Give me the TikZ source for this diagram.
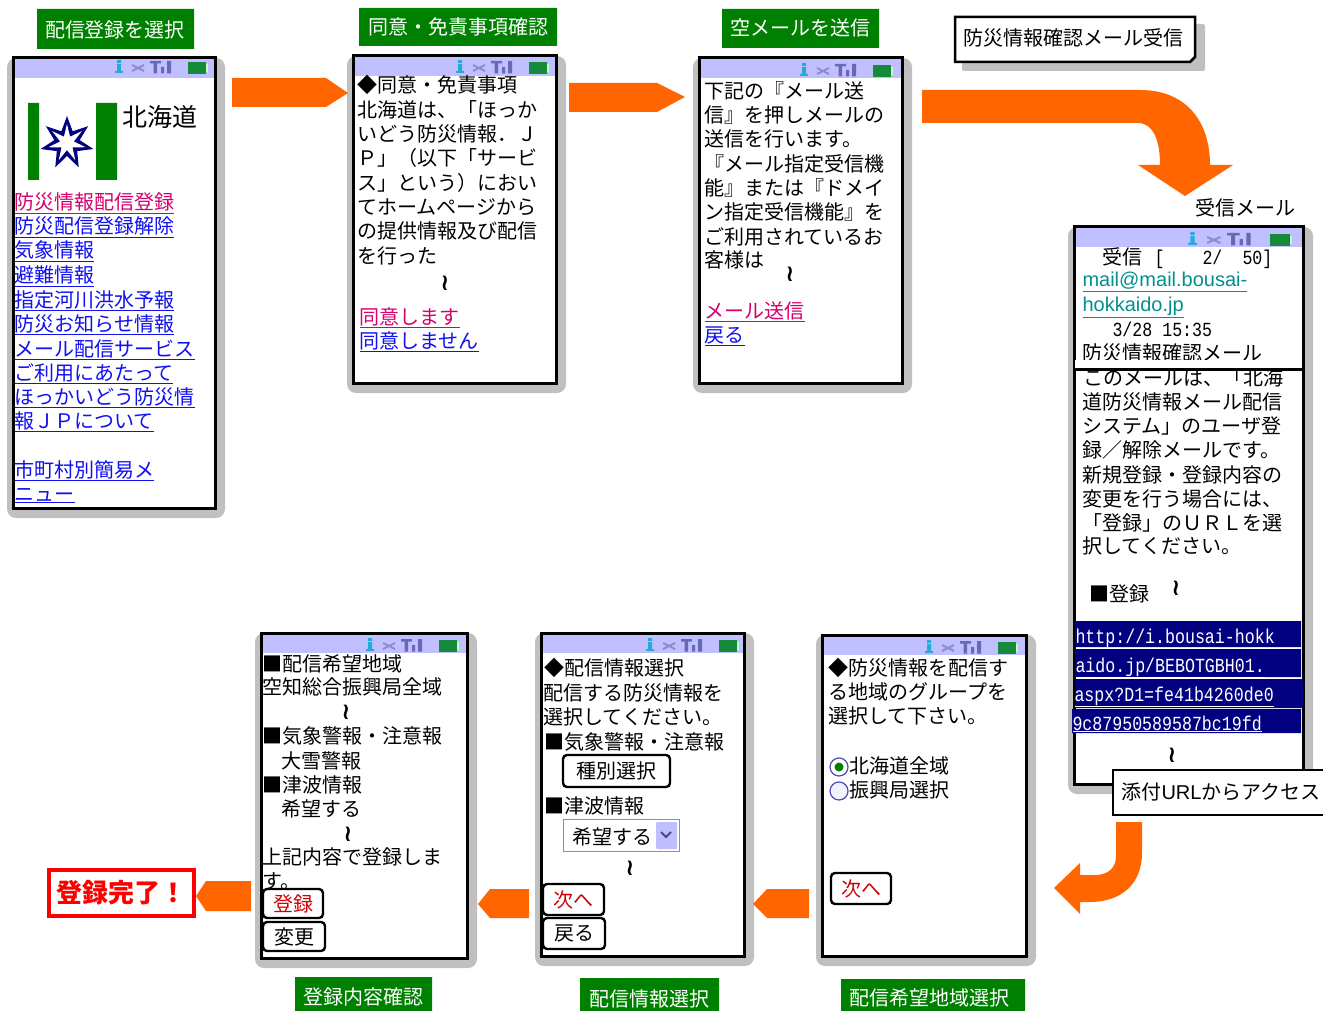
\documentclass[tikz,border=0pt]{standalone}
\usepackage{fontspec}
\setmainfont{Noto Sans CJK JP}
\newfontfamily\latinf{Liberation Sans}
\newfontfamily\monof[FakeStretch=0.83]{Liberation Mono}
\newfontfamily\wavef{DejaVu Sans}
\definecolor{orangeA}{HTML}{FF6600}
\definecolor{shadowg}{HTML}{C0C0C0}
\definecolor{headl}{HTML}{C0C0FF}
\definecolor{greenL}{HTML}{008000}
\definecolor{linkr}{HTML}{D6006E}
\definecolor{linkb}{HTML}{1010F0}
\definecolor{linkt}{HTML}{009090}
\definecolor{btnr}{HTML}{D00000}
\definecolor{navyU}{HTML}{000080}
\definecolor{iconc}{HTML}{2AA8D8}
\definecolor{iconb}{HTML}{6868B8}
\definecolor{icong}{HTML}{158A3A}
\newcounter{tn}
\tikzset{
  tx/.style={anchor=base west,inner sep=0pt,outer sep=0pt,font=\fontsize{20pt}{24pt}\selectfont,text=black},
  wv/.style={anchor=center,inner sep=0pt,font=\wavef\bfseries\fontsize{23pt}{26pt}\selectfont},
  gtext/.style={anchor=center,text=white,inner sep=0pt,font=\fontsize{20pt}{24pt}\selectfont},
  btn/.style={draw=black,line width=2.4pt,rounded corners=4pt,fill=white,inner sep=0pt,font=\fontsize{20pt}{24pt}\selectfont},
  arrowA/.style={fill=orangeA,draw=none},
}
\newcommand\Tx[3]{\stepcounter{tn}\node[tx] (t\arabic{tn}) at (#1-0.5,#2+8) {#3};}
\newcommand\Wv[2]{\stepcounter{tn}\node[wv] (t\arabic{tn}) at (#1,#2) {≀};}
\newcommand\Ulk[2]{\textcolor{#1}{\underline{#2}}}
\newcommand\Mono[1]{{\monof\fontsize{20pt}{24pt}\selectfont #1}}
\newcommand\Url[1]{\textcolor{white}{\monof\fontsize{20pt}{24pt}\selectfont\underline{#1}}}
\newcommand\Status[3]{%
  \begin{scope}[shift={(#1,#2)},xscale=#3]
    \fill[iconc] (2,0) rectangle (6,3) (2,4) rectangle (6,11) (0,11) rectangle (8,13);
    \draw[line width=2pt,color=black!45!blue!45] (17,5) -- (29,11) (17,11) -- (29,5);
    \fill[iconb] (35,1) rectangle (46,3.5) (38.5,1) rectangle (42,13.5) (46,7) rectangle (49,13.5) (52,1) rectangle (56,13.5);
    \fill[icong] (73,2) rectangle (91,14);
    \fill[green!25] (91,4) rectangle (93,12);
  \end{scope}}
\newcommand\Phone[4]{%
  \fill[shadowg,rounded corners=9pt] (#1-5,#2) rectangle (#3+10,#4+10);
  \draw[fill=white,line width=3pt] (#1+1,#2) rectangle (#3,#4);
  \fill[headl] (#1+2.5,#2+1.5) rectangle (#3-1.5,#2+20);}
\newcommand\StarPoly[3]{% colour, outer radius, inner radius
  \fill[#1] (67,{143-#2})
    -- ({67+#3*sin(25.71)},{143-#3*cos(25.71)}) -- ({67+#2*sin(51.43)},{143-#2*cos(51.43)})
    -- ({67+#3*sin(77.14)},{143-#3*cos(77.14)}) -- ({67+#2*sin(102.86)},{143-#2*cos(102.86)})
    -- ({67+#3*sin(128.57)},{143-#3*cos(128.57)}) -- ({67+#2*sin(154.29)},{143-#2*cos(154.29)})
    -- ({67+#3*sin(180)},{143-#3*cos(180)}) -- ({67+#2*sin(205.71)},{143-#2*cos(205.71)})
    -- ({67+#3*sin(231.43)},{143-#3*cos(231.43)}) -- ({67+#2*sin(257.14)},{143-#2*cos(257.14)})
    -- ({67+#3*sin(282.86)},{143-#3*cos(282.86)}) -- ({67+#2*sin(308.57)},{143-#2*cos(308.57)})
    -- ({67+#3*sin(334.29)},{143-#3*cos(334.29)}) -- cycle;}
\begin{document}
\begin{tikzpicture}[x=1pt,y=-1pt]
\useasboundingbox (0,0) rectangle (1323,1011);
\fill[white] (0,0) rectangle (1323,1011);

% ---- green labels
\fill[greenL] (37,9) rectangle (194,49) (359,8) rectangle (557,46) (722,9) rectangle (879,48)
  (295,977) rectangle (432,1011) (580,978) rectangle (719,1011) (841,979) rectangle (1025,1011);
\node[gtext] (l1) at (115,30) {配信登録を選択};
\node[gtext] (l2) at (458,27) {同意・免責事項確認};
\node[gtext] (l3) at (800.5,28) {空メールを送信};
\node[gtext] (l7) at (363.5,997) {登録内容確認};
\node[gtext] (l6) at (649,999) {配信情報選択};
\node[gtext] (l5) at (929,998) {配信希望地域選択};

% ---- phone 1
\Phone{12}{58}{215}{508}
\Status{115}{60}{1}
\fill[greenL] (28,103) rectangle (39,180) (96,103) rectangle (117,180);
\StarPoly{navyU}{27}{13}
\StarPoly{white}{19}{7}
\stepcounter{tn}\node[tx,font=\fontsize{25pt}{28pt}\selectfont] (hk) at (122,127) {北海道};
\Tx{15}{202}{\Ulk{linkr}{防災情報配信登録}}
\Tx{15}{226}{\Ulk{linkb}{防災配信登録解除}}
\Tx{15}{250}{\Ulk{linkb}{気象情報}}
\Tx{15}{275}{\Ulk{linkb}{避難情報}}
\Tx{15}{299}{\Ulk{linkb}{指定河川洪水予報}}
\Tx{15}{323}{\Ulk{linkb}{防災お知らせ情報}}
\Tx{15}{348}{\Ulk{linkb}{メール配信サービス}}
\Tx{15}{372}{\Ulk{linkb}{ご利用にあたって}}
\Tx{15}{396}{\Ulk{linkb}{ほっかいどう防災情}}
\Tx{15}{420}{\Ulk{linkb}{報ＪＰについて}}
\Tx{15}{469}{\Ulk{linkb}{市町村別簡易メ}}
\Tx{15}{493}{\Ulk{linkb}{ニュー}}

% ---- phone 2
\Phone{352}{56}{556}{383}
\Status{456}{60}{1}
\Tx{358}{85}{◆同意・免責事項}
\Tx{358}{110}{北海道は、「ほっか}
\Tx{358}{134}{いどう防災情報．Ｊ}
\Tx{358}{158}{Ｐ」（以下「サービ}
\Tx{358}{183}{ス」という）におい}
\Tx{358}{207}{てホームページから}
\Tx{358}{231}{の提供情報及び配信}
\Tx{358}{255}{を行った}
\Wv{445}{283}
\Tx{360}{316}{\Ulk{linkr}{同意します}}
\Tx{360}{340}{\Ulk{linkb}{同意しません}}

% ---- phone 3
\Phone{698}{58}{902}{383}
\Status{800}{63}{1}
\Tx{705}{91}{下記の『メール送}
\Tx{705}{115}{信』を押しメールの}
\Tx{705}{139}{送信を行います。}
\Tx{705}{164}{『メール指定受信機}
\Tx{705}{188}{能』または『ドメイ}
\Tx{705}{212}{ン指定受信機能』を}
\Tx{705}{236}{ご利用されているお}
\Tx{705}{260}{客様は}
\Wv{790}{274}
\Tx{705}{310}{\Ulk{linkr}{メール送信}}
\Tx{705}{334}{\Ulk{linkb}{戻る}}

% ---- phone 4
\Tx{1196}{208}{受信メール}
\Phone{1073}{227}{1303}{784}
\Status{1188}{232}{1.12}
\Tx{1103}{257}{受信}
\Tx{1155}{257}{\Mono{[}}
\Tx{1203}{257}{\Mono{2/}}
\Tx{1243}{257}{\Mono{50]}}
\Tx{1083}{279}{\Ulk{linkt}{\latinf mail@mail.bousai-}}
\Tx{1083}{304}{\Ulk{linkt}{\latinf hokkaido.jp}}
\Tx{1113}{328}{\Mono{3/28 15:35}}
\Tx{1083}{352}{防災情報確認メール}
\Tx{1084}{377}{このメールは、「北海}
\fill[white] (1075,360) rectangle (1301,369);
\draw[line width=3pt] (1073,369) -- (1303,369);
\Tx{1083}{401}{道防災情報メール配信}
\Tx{1083}{425}{システム」のユーザ登}
\Tx{1083}{449}{録／解除メールです。}
\Tx{1083}{474}{新規登録・登録内容の}
\Tx{1083}{498}{変更を行う場合には、}
\Tx{1083}{522}{「登録」のＵＲＬを選}
\Tx{1083}{545}{択してください。}
\Tx{1090}{593}{■登録}
\Wv{1176}{588}
\fill[navyU] (1075,621) rectangle (1301,647) (1075,649) rectangle (1301,677)
  (1075,679) rectangle (1303,708) (1072,709) rectangle (1301,733);
\Tx{1076}{635}{\Url{http://i.bousai-hokk}}
\Tx{1076}{664}{\Url{aido.jp/BEBOTGBH01.}}
\Tx{1075}{693}{\Url{aspx?D1=fe41b4260de0}}
\Tx{1073}{722}{\Url{9c87950589587bc19fd}}
\Wv{1172}{755}
\fill[white] (1113,770) rectangle (1323,815);
\draw[line width=2.5pt] (1323,770) -- (1113,770) -- (1113,815) -- (1323,815);
\Tx{1122}{791}{添付{\latinf URL}からアクセス}

% ---- phone 5
\Phone{821}{635}{1026}{956}
\Status{925}{640}{1}
\Tx{829}{667}{◆防災情報を配信す}
\Tx{829}{691}{る地域のグループを}
\Tx{829}{715}{選択して下さい。}
\draw[blue!40!gray,fill=white,line width=1.2pt] (839,767) circle (9pt);
\fill[green!50!black] (839,767) circle (4.5pt);
\draw[blue!40!gray,fill=blue!5,line width=1.2pt] (839,791) circle (9pt);
\Tx{850}{765}{北海道全域}
\Tx{850}{789}{振興局選択}
\node[btn,text=btnr,minimum width=60pt,minimum height=31pt] (b5) at (861,888.5) {次へ};

% ---- phone 6
\Phone{540}{633}{744}{956}
\Status{646}{638}{1}
\Tx{545}{667}{◆配信情報選択}
\Tx{544}{692}{配信する防災情報を}
\Tx{544}{716}{選択してください。}
\Tx{545}{741}{■気象警報・注意報}
\node[btn,minimum width=107pt,minimum height=32pt] (b6a) at (616.5,771) {種別選択};
\Tx{545}{805}{■津波情報}
\draw[blue!30!gray!70,fill=white,line width=1pt] (563,819) rectangle (679,851);
\fill[blue!25,rounded corners=1pt] (656,822) rectangle (677,849);
\draw[blue!30!black!70,line width=1.8pt] (661,832) -- (666,837) -- (671,832);
\Tx{573}{836}{希望する}
\Wv{630}{868}
\node[btn,text=btnr,minimum width=61pt,minimum height=31pt] (b6b) at (573.5,899.5) {次へ};
\node[btn,minimum width=62pt,minimum height=31pt] (b6c) at (574,933.5) {戻る};

% ---- phone 7
\Phone{260}{633}{467}{958}
\Status{366}{638}{1}
\Tx{263}{663}{■配信希望地域}
\Tx{263}{686}{空知総合振興局全域}
\Wv{346}{712}
\Tx{263}{735}{■気象警報・注意報}
\Tx{282}{760}{大雪警報}
\Tx{263}{784}{■津波情報}
\Tx{282}{808}{希望する}
\Wv{348}{834}
\Tx{263}{856}{上記内容で登録しま}
\Tx{263}{880}{す。}
\node[btn,text=btnr,minimum width=60pt,minimum height=29pt] (b7a) at (293,903.5) {登録};
\node[btn,minimum width=62pt,minimum height=29pt] (b7b) at (294,936.5) {変更};

% ---- note box
\fill[shadowg,rounded corners=2pt] (962,24) rectangle (1205,71);
\draw[fill=white,line width=2.5pt] (955,17) -- (1195,17) -- (1195,57) -- (1190,62) -- (955,62) -- cycle;
\Tx{964}{38}{防災情報確認メール受信}

% ---- finished box
\node[draw=red,line width=4pt,fill=white,text=red,minimum width=145pt,minimum height=46pt,inner sep=0pt,
      font=\fontsize{26pt}{28pt}\selectfont\bfseries] (done) at (121.5,893) {登録完了！};

% ---- arrows
\fill[arrowA] (232,78) -- (326,78) -- (348,93) -- (326,107) -- (232,107) -- cycle;
\fill[arrowA] (569,83) -- (657,83) -- (685,97) -- (657,112) -- (569,112) -- cycle;
\fill[arrowA] (922,90) -- (1140,90) .. controls (1185,90) and (1210,120) .. (1210,165)
  -- (1233,165) -- (1185,196) -- (1138,165) -- (1160,165)
  .. controls (1160,140) and (1153,123) .. (1138,123) -- (922,123) -- cycle;
\fill[arrowA] (1116,822) -- (1142,822) -- (1142,853) .. controls (1142,885) and (1120,902) .. (1090,902)
  -- (1080,902) -- (1080,914) -- (1054,888) -- (1080,863) -- (1080,875) -- (1095,875)
  .. controls (1108,875) and (1116,868) .. (1116,856) -- cycle;
\fill[arrowA] (809,889) -- (767,889) -- (753,904) -- (767,918) -- (809,918) -- cycle;
\fill[arrowA] (529,889) -- (490,889) -- (478,904) -- (490,918) -- (529,918) -- cycle;
\fill[arrowA] (251,881) -- (206,881) -- (196,896) -- (206,911) -- (251,911) -- cycle;
\end{tikzpicture}
\end{document}
